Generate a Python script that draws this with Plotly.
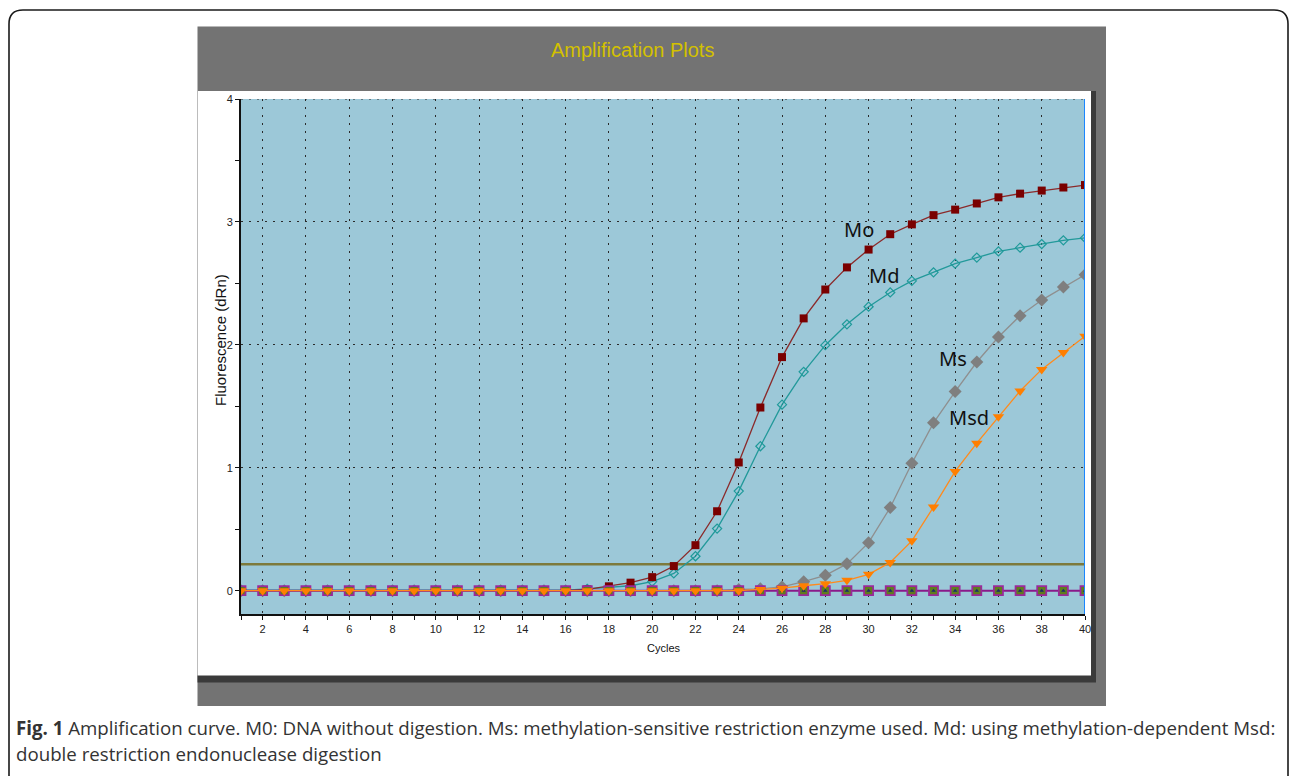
import plotly.graph_objects as go

# ---- data -------------------------------------------------------------
cycles = [1, 2, 3, 4, 5, 6, 7, 8, 9, 10, 11, 12, 13, 14, 15, 16, 17, 18, 19, 20,
          21, 22, 23, 24, 25, 26, 27, 28, 29, 30, 31, 32, 33, 34, 35, 36, 37, 38, 39, 40]

mo = [0.0, 0.0, 0.0, 0.0, 0.0, 0.0, 0.0, 0.0, 0.0, 0.0, 0.0, 0.0, 0.0, 0.0, 0.0, 0.0,
      0.01, 0.035, 0.065, 0.11, 0.20, 0.37, 0.646, 1.043, 1.49, 1.90, 2.215, 2.45,
      2.63, 2.775, 2.90, 2.98, 3.055, 3.10, 3.15, 3.20, 3.23, 3.255, 3.28, 3.30]

md = [0.005, 0.005, 0.005, 0.005, 0.005, 0.005, 0.005, 0.005, 0.005, 0.005, 0.005,
      0.005, 0.005, 0.005, 0.005, 0.005, 0.015, 0.025, 0.04, 0.073, 0.14, 0.28, 0.505,
      0.81, 1.175, 1.513, 1.78, 1.997, 2.167, 2.31, 2.426, 2.52, 2.59, 2.66, 2.71,
      2.76, 2.79, 2.82, 2.85, 2.87]

ms = [0.0, 0.0, 0.0, 0.0, 0.0, 0.0, 0.0, 0.0, 0.0, 0.0, 0.0, 0.0, 0.0, 0.0, 0.0, 0.0,
      0.0, 0.0, 0.0, 0.0, 0.0, 0.0, 0.0, 0.01, 0.015, 0.03, 0.073, 0.125, 0.218, 0.39,
      0.676, 1.037, 1.365, 1.62, 1.86, 2.064, 2.237, 2.364, 2.47, 2.57]

msd = [0.0, 0.0, 0.0, 0.0, 0.0, 0.0, 0.0, 0.0, 0.0, 0.0, 0.0, 0.0, 0.0, 0.0, 0.0, 0.0,
       0.0, 0.0, 0.0, 0.0, 0.0, 0.0, 0.0, 0.0, 0.01, 0.02, 0.04, 0.057, 0.084, 0.133,
       0.23, 0.405, 0.68, 0.97, 1.20, 1.415, 1.624, 1.80, 1.937, 2.07]

ntc = [0.0, 0.0, 0.0, 0.0, 0.0, 0.0, 0.0, 0.0, 0.0, 0.0, 0.0, 0.0, 0.0, 0.0, 0.0, 0.0,
       0.0, 0.0, 0.0, 0.0, 0.0, 0.0, 0.0, 0.0, 0.0, 0.0, 0.0, 0.0, 0.0, 0.0, 0.0, 0.0,
       0.0, 0.0, 0.0, 0.0, 0.0, 0.0, 0.0, 0.0]

threshold = 0.214

# curve labels: (text, cycle, dRn)
curve_labels = [("Mo", 29.55, 2.94), ("Md", 30.72, 2.565),
                ("Ms", 33.9, 1.89), ("Msd", 34.64, 1.405)]

chart_title = "Amplification Plots"
x_title = "Cycles"
y_title = "Fluorescence (dRn)"
caption_1 = ("<b>Fig. 1</b> Amplification curve. M0: DNA without digestion. Ms: "
             "methylation-sensitive restriction enzyme used. Md: using "
             "methylation-dependent Msd:")
caption_2 = "double restriction endonuclease digestion"

# ---- page geometry (pixels) --------------------------------------------
W, H = 1293, 776
PL, PR, PT, PB = 241, 1085, 99, 614          # plot area edges


def px(x):
    return (x - PL) / (PR - PL)


def py(y):
    return (PB - y) / (PB - PT)


SANS = "Liberation Sans, Arial, sans-serif"
CAPTION_FONT = "Open Sans, Noto Sans, sans-serif"

fig = go.Figure()

# threshold line
fig.add_trace(go.Scatter(x=[cycles[0], cycles[-1]], y=[threshold, threshold],
                         mode="lines", line=dict(color="#7d7a3c", width=2.5),
                         hoverinfo="skip", showlegend=False))

fig.add_trace(go.Scatter(x=cycles, y=ms, mode="lines+markers", name="Ms",
                         line=dict(color="#8f8f8f", width=1.3),
                         marker=dict(symbol="diamond", size=10, color="#7f7f7f")))
fig.add_trace(go.Scatter(x=cycles, y=md, mode="lines+markers", name="Md",
                         line=dict(color="#22999a", width=1.3),
                         marker=dict(symbol="diamond-open", size=7, color="#1f9a9a",
                                     line=dict(width=1.2))))
fig.add_trace(go.Scatter(x=cycles, y=mo, mode="lines+markers", name="Mo",
                         line=dict(color="#8b2a2a", width=1.3),
                         marker=dict(symbol="square", size=8, color="#7a0000")))
fig.add_trace(go.Scatter(x=cycles, y=ntc, mode="lines+markers", name="NTC",
                         line=dict(color="#8a1a8a", width=2),
                         marker=dict(symbol="square", size=9, color="#5f7d1c",
                                     line=dict(color="#9a2a9a", width=1.8))))
fig.add_trace(go.Scatter(x=cycles, y=ntc, mode="markers", name="NTC 2",
                         marker=dict(symbol="triangle-up", size=4, color="#1c2a6a")))
fig.add_trace(go.Scatter(x=cycles, y=msd, mode="lines+markers", name="Msd",
                         line=dict(color="#ff8a1c", width=1.3),
                         marker=dict(symbol="triangle-down", size=10, color="#ff7f00")))

shapes = [
    # outer rounded frame of the figure box
    dict(type="path", xref="paper", yref="paper", layer="below",
         path=("M {a},{t} L {b},{t} Q {R},{T} {R},{u} L {R},{Bt} "
               "L {L},{Bt} L {L},{u} Q {L},{T} {a},{t} Z").format(
             a=px(23), b=px(1274), t=py(10), T=py(10), R=px(1288), u=py(24),
             Bt=py(800), L=px(9)),
         line=dict(color="#1a1a1a", width=1.6), fillcolor="rgba(0,0,0,0)"),
    # grey instrument window
    dict(type="rect", xref="paper", yref="paper", layer="below",
         x0=px(197.5), x1=px(1106), y0=py(706), y1=py(26.5),
         line=dict(width=0), fillcolor="#737373"),
    dict(type="rect", xref="paper", yref="paper", layer="below",
         x0=px(197.5), x1=px(1096), y0=py(682.5), y1=py(91),
         line=dict(width=0), fillcolor="#3a3a3a"),
    dict(type="rect", xref="paper", yref="paper", layer="below",
         x0=px(197.5), x1=px(1091), y0=py(675.5), y1=py(91),
         line=dict(width=0), fillcolor="#ffffff"),
    # plotting background
    dict(type="rect", xref="paper", yref="paper", layer="below",
         x0=0, x1=1, y0=0, y1=1, line=dict(width=0), fillcolor="#9cc8d8"),
    # top dotted border at y = 4
    dict(type="line", xref="paper", yref="y", layer="above",
         x0=0, x1=1, y0=4, y1=4,
         line=dict(color="#2a2a2a", width=1, dash="2px,6px")),
    # end-of-run marker at the last cycle
    dict(type="line", xref="x", yref="paper", layer="above",
         x0=cycles[-1], x1=cycles[-1], y0=0, y1=1,
         line=dict(color="#1a86ff", width=2)),
]


def page_text(text, x, y, font, angle=0, xanchor="center"):
    return dict(text=text, xref="paper", yref="paper", x=px(x), y=py(y),
                xanchor=xanchor, yanchor="middle", textangle=angle,
                showarrow=False, font=font)


annotations = [
    page_text(chart_title, 632, 50, dict(family=SANS, size=20, color="#d4c100")),
    page_text(y_title, 220, 340, dict(family=SANS, size=15, color="#111111"), angle=-90),
    page_text(x_title, 664, 648, dict(family=SANS, size=11, color="#111111")),
    page_text(caption_1, 14, 727, dict(family=CAPTION_FONT, size=18.7, color="#333333"),
              xanchor="left"),
    page_text(caption_2, 14, 753, dict(family=CAPTION_FONT, size=18.7, color="#333333"),
              xanchor="left"),
]
for text, cx, cy in curve_labels:
    annotations.append(dict(text=text, x=cx, y=cy, xref="x", yref="y",
                            xanchor="center", yanchor="middle", showarrow=False,
                            font=dict(family="Noto Sans, Open Sans, sans-serif",
                                      size=20, color="#111111")))

fig.update_layout(
    width=W, height=H,
    margin=dict(l=PL, r=W - PR, t=PT, b=H - PB, pad=0),
    paper_bgcolor="#ffffff", plot_bgcolor="rgba(0,0,0,0)",
    showlegend=False,
    shapes=shapes, annotations=annotations,
    xaxis=dict(range=[1, 40], tick0=0, dtick=2, ticks="outside", ticklen=4,
               tickwidth=1.2, tickcolor="#111111",
               minor=dict(tick0=0, dtick=1, ticks="outside", ticklen=4,
                          tickwidth=1.2, tickcolor="#111111", showgrid=False),
               showgrid=True, gridcolor="#2a2a2a", gridwidth=1, griddash="2px,6px",
               showline=True, linecolor="#111111", linewidth=2, zeroline=False,
               tickfont=dict(family=SANS, size=11, color="#222222")),
    yaxis=dict(range=[-0.19, 4.0], tick0=0, dtick=1, ticks="outside", ticklen=4,
               tickwidth=1.2, tickcolor="#111111",
               minor=dict(tick0=0, dtick=0.5, ticks="outside", ticklen=4,
                          tickwidth=1.2, tickcolor="#111111", showgrid=False),
               showgrid=True, gridcolor="#2a2a2a", gridwidth=1, griddash="2px,6px",
               showline=True, linecolor="#111111", linewidth=2, zeroline=False,
               tickfont=dict(family=SANS, size=11, color="#222222")),
)

fig.write_html("out.html")
